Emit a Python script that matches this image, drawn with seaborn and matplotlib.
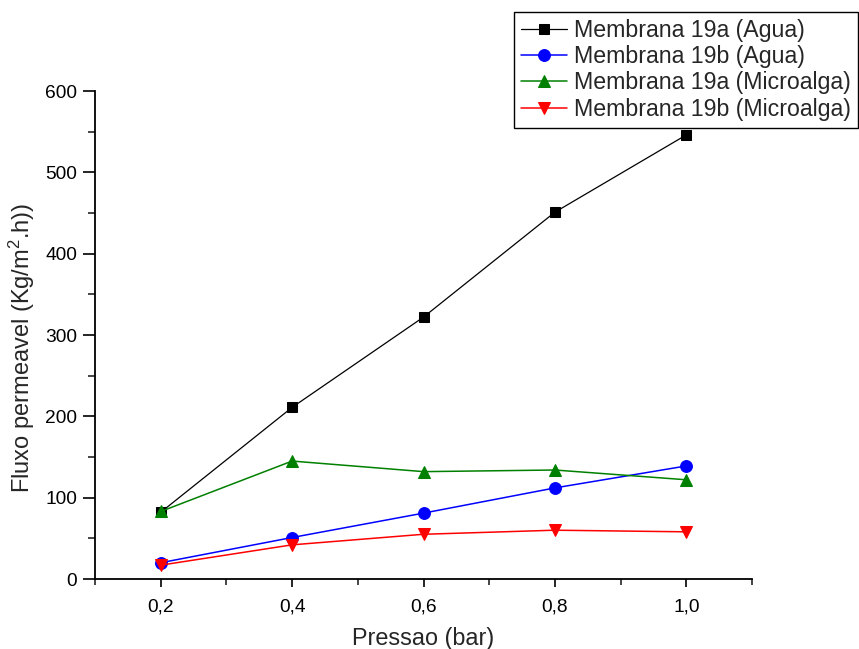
import matplotlib
matplotlib.use("Agg")
import matplotlib.pyplot as plt
import seaborn as sns
import pandas as pd
from matplotlib.ticker import MultipleLocator, FuncFormatter

pressao = [0.2, 0.4, 0.6, 0.8, 1.0]
m19a_agua = [82, 211, 322, 451, 546]
m19b_agua = [20, 51, 81, 112, 139]
m19a_micro = [83, 145, 132, 134, 122]
m19b_micro = [17, 42, 55, 60, 58]

labels = ["Membrana 19a (Agua)", "Membrana 19b (Agua)",
          "Membrana 19a (Microalga)", "Membrana 19b (Microalga)"]
series = [m19a_agua, m19b_agua, m19a_micro, m19b_micro]
colors = ["#000000", "#0000FF", "#008000", "#FF0000"]
markers = ["s", "o", "^", "v"]
msizes = [7.5, 8.5, 9, 9]
lws = [0.9, 1.1, 1.1, 1.1]

sns.set_theme(style="ticks")
plt.rcParams['font.family'] = ['Liberation Sans', 'DejaVu Sans']
plt.rcParams['mathtext.fontset'] = 'custom'
plt.rcParams['mathtext.rm'] = 'Liberation Sans'
plt.rcParams['mathtext.it'] = 'Liberation Sans'

fig = plt.figure(figsize=(8.59, 6.49), dpi=100)
ax = fig.add_axes([95/859, 1-579/649, (752-95)/859, (579-91)/649])

for lab, vals, c, m, ms, lw in zip(labels, series, colors, markers, msizes, lws):
    df = pd.DataFrame({"x": pressao, "y": vals})
    sns.lineplot(data=df, x="x", y="y", ax=ax, color=c, marker=m, markersize=ms,
                 markeredgecolor=c, markerfacecolor=c, linewidth=lw, label=lab,
                 legend=False)

ax.set_xlim(0.1, 1.1)
ax.set_ylim(0, 600)
ax.xaxis.set_major_locator(MultipleLocator(0.2))
ax.xaxis.set_minor_locator(MultipleLocator(0.1))
ax.yaxis.set_major_locator(MultipleLocator(100))
ax.yaxis.set_minor_locator(MultipleLocator(50))
ax.xaxis.set_major_formatter(FuncFormatter(lambda v, p: f"{v:.1f}".replace(".", ",")))
ax.yaxis.set_major_formatter(FuncFormatter(lambda v, p: f"{v:.0f}"))
ax.set_xticks([0.2, 0.4, 0.6, 0.8, 1.0])

for s in ["top", "right"]:
    ax.spines[s].set_visible(False)
for s in ["left", "bottom"]:
    ax.spines[s].set_linewidth(1.3)
    ax.spines[s].set_color("black")

ax.tick_params(axis="both", which="major", labelsize=13.8, width=1.2, colors="black")
ax.tick_params(axis="y", which="major", length=9, pad=4)
ax.tick_params(axis="y", which="minor", length=5, width=1.2)
ax.tick_params(axis="x", which="major", length=6, pad=8)
ax.tick_params(axis="x", which="minor", length=4, width=1.2)

ax.set_xlabel("Pressao (bar)", fontsize=16.8)
ax.xaxis.set_label_coords(0.5, -0.098)
ax.set_ylabel(r"Fluxo permeavel (Kg/m$^2$.h))", fontsize=17)
ax.yaxis.set_label_coords(-0.088, 0.474)

handles, labs = ax.get_legend_handles_labels()
leg = ax.legend(handles, labs, loc="upper right", bbox_to_anchor=(858/859, 1-12/649),
                bbox_transform=fig.transFigure, fontsize=16.7, frameon=True,
                fancybox=False, edgecolor="black", framealpha=1,
                handlelength=2.0, handletextpad=0.3, borderpad=0.3,
                labelspacing=0.14, borderaxespad=0)
leg.get_frame().set_linewidth(1.0)

fig.savefig("out.png", dpi=100)
